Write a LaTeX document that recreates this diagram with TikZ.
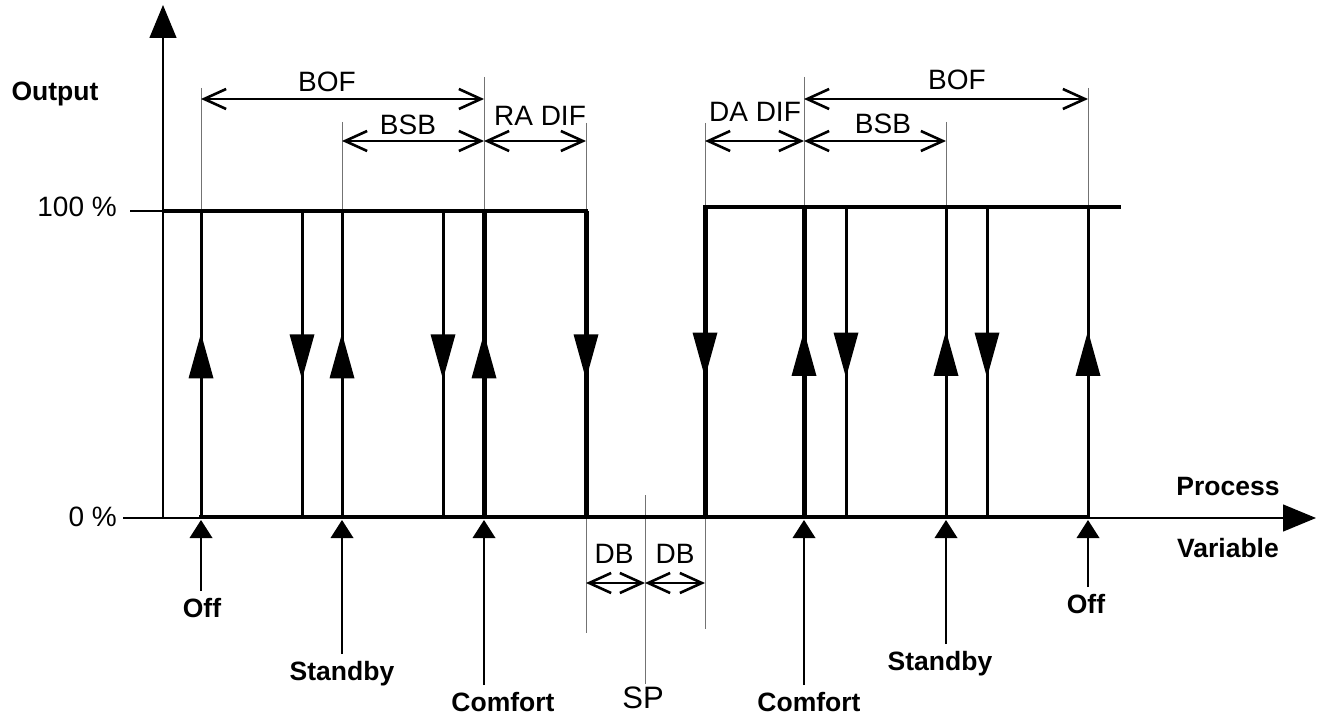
\documentclass[tikz,border=0pt]{standalone}
\usepackage{fontspec}
\setmainfont{Liberation Sans}
\usetikzlibrary{arrows.meta,decorations.markings}

\begin{document}
\begin{tikzpicture}[
                x=1pt, y=-1pt,
                axis/.style={line width=1.3pt},
                level/.style={line width=4.5pt, line cap=rect},
                upflow/.style={line width=#1,
                    postaction={decorate},
                    decoration={markings, mark=at position 0.6 with
                        {\arrow{Triangle[length=45pt,width=25pt,line width=0pt]}}}},
                downflow/.style={line width=#1,
                    postaction={decorate},
                    decoration={markings, mark=at position 0.55 with
                        {\arrow{Triangle[length=45pt,width=25pt,line width=0pt]}}}},
                helper/.style={line width=1pt, black!55},
                span/.style={line width=2.6pt,
                    {Straight Barb[length=22pt,width=20pt]}-{Straight Barb[length=22pt,width=20pt]}},
                pointer/.style={line width=2.5pt, shorten >=3pt,
                    -{Triangle[length=18pt,width=23pt,line width=0pt]}},
                value/.style={font=\fontsize{28}{32}\selectfont, inner sep=0pt, anchor=base},
                modelabel/.style={font=\fontsize{26.5}{30}\selectfont\bfseries,
                    text height=19pt, text depth=0pt, inner sep=0pt, outer sep=7pt, anchor=base}]
            \useasboundingbox (0,0) rectangle (1325,719);
            % axes
            \coordinate (origin) at (163,518);
            \coordinate (y_top) at (163,5);
            \coordinate (x_start) at (123,518);
            \coordinate (x_end) at (1316,518);
            \coordinate (tick_100) at (130,211);
            % switching points on the 0 % and 100 % levels
            \coordinate (b_1) at (201,517);  \coordinate (t_1) at (201,211);
            \coordinate (b_2) at (302,517);  \coordinate (t_2) at (302,211);
            \coordinate (b_3) at (342,517);  \coordinate (t_3) at (342,211);
            \coordinate (b_4) at (443,517);  \coordinate (t_4) at (443,211);
            \coordinate (b_5) at (484,517);  \coordinate (t_5) at (484,211);
            \coordinate (b_6) at (586,517);  \coordinate (t_6) at (586,211);
            \coordinate (b_7) at (705,517);  \coordinate (t_7) at (705,207);
            \coordinate (b_8) at (804,517);  \coordinate (t_8) at (804,207);
            \coordinate (b_9) at (846,517);  \coordinate (t_9) at (846,207);
            \coordinate (b_10) at (946,517); \coordinate (t_10) at (946,207);
            \coordinate (b_11) at (987,517); \coordinate (t_11) at (987,207);
            \coordinate (b_12) at (1088,517); \coordinate (t_12) at (1088,207);
            \coordinate (lo_start) at (166,211);
            \coordinate (hi_end) at (1119,207);
            % tops of the extension lines
            \coordinate (e_1) at (201,88);
            \coordinate (e_3) at (342,122);
            \coordinate (e_5) at (484,77);
            \coordinate (e_6) at (586,123);
            \coordinate (e_7) at (705,123);
            \coordinate (e_8) at (804,77);
            \coordinate (e_10) at (946,122);
            \coordinate (e_12) at (1088,88);
            \coordinate (db_1) at (586,633);
            \coordinate (db_2) at (705,629);
            \coordinate (sp_top) at (645,495);
            % rows of the dimension arrows
            \coordinate (row_bof) at (0,99);
            \coordinate (row_bsb) at (0,141);
            \coordinate (row_db) at (0,583);

            \node[modelabel] (output) at (55,101) {Output};
            \node[modelabel] (process) at (1228,495) {Process};
            \node[modelabel] (variable) at (1228,557) {Variable};
            \node[value, anchor=base east] (pct_100) at (117,217) {100 \%};
            \node[value, anchor=base east] (pct_0) at (117,526) {0 \%};

            \node[value] (bof_1) at (327,92) {BOF};
            \node[value] (bsb_1) at (408,135) {BSB};
            \node[value] (ra_dif) at (540,126) {RA DIF};
            \node[value] (da_dif) at (755,122) {DA DIF};
            \node[value] (bsb_2) at (883,134) {BSB};
            \node[value] (bof_2) at (957,90) {BOF};
            \node[value] (db_l) at (614,563) {DB};
            \node[value] (db_r) at (675,563) {DB};
            \node[value, font=\fontsize{31}{34}\selectfont, inner sep=2pt] (sp) at (643,708) {SP};

            \node[modelabel] (off_1) at (202,617) {Off};
            \node[modelabel] (standby_1) at (342,680) {Standby};
            \node[modelabel] (comfort_1) at (503,711) {Comfort};
            \node[modelabel] (comfort_2) at (809,711) {Comfort};
            \node[modelabel] (standby_2) at (940,670) {Standby};
            \node[modelabel] (off_2) at (1086,613) {Off};

            % extension lines
            \draw[helper] (e_1) -- (t_1);
            \draw[helper] (e_3) -- (t_3);
            \draw[helper] (e_5) -- (t_5);
            \draw[helper] (e_6) -- (t_6);
            \draw[helper] (e_7) -- (t_7);
            \draw[helper] (e_8) -- (t_8);
            \draw[helper] (e_10) -- (t_10);
            \draw[helper] (e_12) -- (t_12);
            \draw[helper] (b_6) -- (db_1);
            \draw[helper] (b_7) -- (db_2);
            \draw[helper] (sp_top) -- (sp_top |- sp.north);

            \draw[axis, -{Triangle[length=33pt,width=27pt]}] (origin) -- (y_top);
            \draw[axis, -{Triangle[length=33pt,width=27pt]}] (x_start) -- (x_end);
            \draw[axis] (tick_100) -- (tick_100 -| origin);

            % output levels
            \draw[level] (lo_start) -- (t_6);
            \draw[level] (t_7) -- (hi_end);
            \draw[level, line width=4pt] (b_1) -- (b_12);

            % switching
            \draw[upflow=3pt] (b_1) -- (t_1);
            \draw[downflow=3pt] (t_2) -- (b_2);
            \draw[upflow=3pt] (b_3) -- (t_3);
            \draw[downflow=3pt] (t_4) -- (b_4);
            \draw[upflow=5pt] (b_5) -- (t_5);
            \draw[downflow=5pt] (t_6) -- (b_6);
            \draw[downflow=5pt] (t_7) -- (b_7);
            \draw[upflow=5pt] (b_8) -- (t_8);
            \draw[downflow=3pt] (t_9) -- (b_9);
            \draw[upflow=3pt] (b_10) -- (t_10);
            \draw[downflow=3pt] (t_11) -- (b_11);
            \draw[upflow=3pt] (b_12) -- (t_12);

            % bands
            \draw[span] (b_1 |- row_bof) -- (b_5 |- row_bof);
            \draw[span] (b_3 |- row_bsb) -- (b_5 |- row_bsb);
            \draw[span] (b_5 |- row_bsb) -- (b_6 |- row_bsb);
            \draw[span] (b_7 |- row_bsb) -- (b_8 |- row_bsb);
            \draw[span] (b_8 |- row_bsb) -- (b_10 |- row_bsb);
            \draw[span] (b_8 |- row_bof) -- (b_12 |- row_bof);
            \draw[span] (b_6 |- row_db) -- (sp_top |- row_db);
            \draw[span] (sp_top |- row_db) -- (b_7 |- row_db);

            % operating modes
            \draw[pointer] (off_1.north -| b_1) -- (b_1);
            \draw[pointer] (standby_1.north -| b_3) -- (b_3);
            \draw[pointer] (comfort_1.north -| b_5) -- (b_5);
            \draw[pointer] (comfort_2.north -| b_8) -- (b_8);
            \draw[pointer] (standby_2.north -| b_10) -- (b_10);
            \draw[pointer] (off_2.north -| b_12) -- (b_12);
        \end{tikzpicture}
\end{document}
